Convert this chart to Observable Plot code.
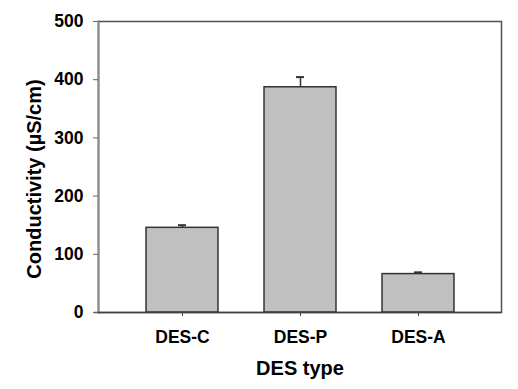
<!DOCTYPE html>
<html>
<head>
<meta charset="utf-8">
<script src="https://cdn.jsdelivr.net/npm/d3@7"></script>
<script src="https://cdn.jsdelivr.net/npm/@observablehq/plot@0.6"></script>
<style>
  html, body { margin: 0; padding: 0; background: #fff; }
</style>
</head>
<body>
<div id="chart"></div>
<script>
const categories = ["DES-C", "DES-P", "DES-A"];
const conductivity = [145.5, 387, 66];
const errors = [4.5, 17.5, 3];
const yTicks = [0, 100, 200, 300, 400, 500];

const data = categories.map((c, i) => ({type: c, value: conductivity[i], top: conductivity[i] + errors[i]}));

const chart = Plot.plot({
  width: 518,
  height: 389,
  marginLeft: 98,
  marginRight: 17,
  marginTop: 21,
  marginBottom: 77,
  style: {fontFamily: "'Liberation Sans', Arial, sans-serif", fontWeight: "bold", fontSize: "17px", background: "#fff", color: "#000"},
  x: {domain: categories, paddingInner: 0.39, paddingOuter: 0.4, label: null},
  y: {domain: [0, 500], label: null},
  marks: [
    Plot.frame({stroke: "#505050", strokeWidth: 1.5}),
    Plot.frame({anchor: "left", stroke: "#8a8a8a", strokeWidth: 2}),
    Plot.ruleX(data, {x: "type", y1: "value", y2: "top", stroke: "#333", strokeWidth: 1.5}),
    Plot.tickY(data, {x: "type", y: "top", stroke: "#333", strokeWidth: 2, insetLeft: 32, insetRight: 32}),
    Plot.barY(data, {x: "type", y: "value", fill: "#c0c0c0", stroke: "#333", strokeWidth: 1.5}),
    Plot.ruleY([0], {stroke: "#404040", strokeWidth: 1.5, insetLeft: -4}),
    Plot.axisY({ticks: yTicks, tickSize: 5, tickPadding: 10, stroke: "#666", fontSize: 17.5, fontWeight: "bold",
      label: "Conductivity (\u00b5S/cm)", labelAnchor: "center", labelArrow: "none", labelOffset: 72}),
    Plot.axisX({tickSize: 4, tickPadding: 14, stroke: "#444", fontSize: 17.5, fontWeight: "bold",
      label: "DES type", labelAnchor: "center", labelArrow: "none", labelOffset: 62})
  ]
});

// enlarge axis titles
chart.querySelectorAll("[aria-label='y-axis label'] text, [aria-label='x-axis label'] text").forEach(t => t.setAttribute("font-size", "20"));
chart.querySelectorAll("[aria-label='y-axis label'] text").forEach(t => t.setAttribute("dx", "-12"));
document.getElementById("chart").appendChild(chart);
</script>
</body>
</html>
